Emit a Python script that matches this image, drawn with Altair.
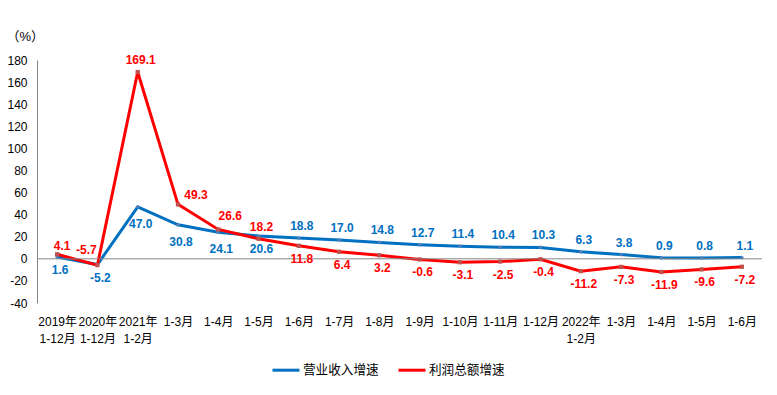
import json
import altair as alt
import pandas as pd

categories = ["2019年\n1-12月", "2020年\n1-12月", "2021年\n1-2月", "1-3月", "1-4月", "1-5月",
              "1-6月", "1-7月", "1-8月", "1-9月", "1-10月", "1-11月", "1-12月",
              "2022年\n1-2月", "1-3月", "1-4月", "1-5月", "1-6月"]
series_names = ["营业收入增速", "利润总额增速"]
revenue = [1.6, -5.2, 47.0, 30.8, 24.1, 20.6, 18.8, 17.0, 14.8, 12.7, 11.4, 10.4, 10.3,
           6.3, 3.8, 0.9, 0.8, 1.1]
profit = [4.1, -5.7, 169.1, 49.3, 26.6, 18.2, 11.8, 6.4, 3.2, -0.6, -3.1, -2.5, -0.4,
          -11.2, -7.3, -11.9, -9.6, -7.2]
y_ticks = [-40, -20, 0, 20, 40, 60, 80, 100, 120, 140, 160, 180]

# label placement flags (a = above, b = below, b2 = further below,
# as = slightly above right, ar/ar2 = above right, al = above left)
revenue_label_pos = ["b", "b", "b2", "b2", "b2", "b"] + ["a"] * 12
profit_label_pos = ["as", "al", "a", "ar", "ar2", "a"] + ["b"] * 12

LINE_COLORS = ["#0070C0", "#FF0000"]
MARKER_COLORS = ["#4F81BD", "#C0504D"]
LABEL_OFFSETS = {"a": (3, -12), "b": (3, 13), "b2": (3, 17), "as": (5, -8),
                 "ar": (18, -9), "ar2": (12, -13), "al": (-11, -15)}

rows = []
for name, vals, poss in [(series_names[0], revenue, revenue_label_pos),
                         (series_names[1], profit, profit_label_pos)]:
    for i, (v, p) in enumerate(zip(vals, poss)):
        rows.append({"series": name, "idx": i, "value": v, "pos": p, "label": f"{v:.1f}"})
df = pd.DataFrame(rows)

label_lines = json.dumps([c.split("\n") for c in categories], ensure_ascii=False)

x_enc = alt.X("idx:O", title=None,
              axis=alt.Axis(orient="bottom", domain=False, ticks=False, tickSize=0,
                            labelAngle=0, labelFontSize=12, labelColor="#000000",
                            labelPadding=13, labelLineHeight=17, labelBaseline="top",
                            labelOverlap=False, labelExpr=f"{label_lines}[datum.value]"))

y_axis = alt.Axis(values=y_ticks, tickCount=len(y_ticks), grid=False, ticks=False,
                  tickSize=0, domainColor="#868686", labelFontSize=12,
                  labelColor="#000000", labelPadding=10, labelOverlap=False,
                  labelExpr="'' + datum.value",
                  title="（%）", titleAngle=0, titleAlign="left",
                  titleBaseline="middle", titleX=-31, titleY=-24,
                  titleFontSize=13, titleFontWeight="normal", titleColor="#000000")
y_scale = alt.Scale(domain=[-40, 180], nice=False, zero=False)


def y_of(field):
    return alt.Y(field, scale=y_scale, axis=y_axis)


base = alt.Chart(df).encode(x=x_enc, y=y_of("value:Q"))

lines = base.mark_line(strokeWidth=3).encode(
    color=alt.Color("series:N", sort=series_names,
                    scale=alt.Scale(domain=series_names, range=LINE_COLORS),
                    legend=alt.Legend(orient="none", legendX=234, legendY=295,
                                      direction="horizontal", title=None,
                                      symbolType="stroke", symbolStrokeWidth=3,
                                      symbolSize=729, labelFontSize=12.6,
                                      labelColor="#000000", labelOffset=2,
                                      columnPadding=13)),
    detail="series:N")

zero_rule = alt.Chart(pd.DataFrame({"z": [0]})).mark_rule(color="#868686", strokeWidth=1).encode(
    y=y_of("z:Q"))

layers = [lines, zero_rule]
for k, name in enumerate(series_names):
    layers.append(base.transform_filter(alt.datum.series == name).mark_point(
        filled=True, size=18, shape="square" if k == 1 else "diamond",
        color=MARKER_COLORS[k], opacity=1))
    for key, (dx, dy) in LABEL_OFFSETS.items():
        layers.append(base.transform_filter(
            (alt.datum.series == name) & (alt.datum.pos == key)).mark_text(
            dx=dx, dy=dy, fontSize=12, fontWeight="bold", color=LINE_COLORS[k],
            baseline="middle", align="center").encode(text=alt.Text("label:N")))

chart = alt.layer(*layers).properties(
    width=725, height=243,
    autosize=alt.AutoSizeParams(type="none"),
    padding={"left": 29, "top": 52, "right": 7, "bottom": 84},
).configure(font="Liberation Sans, Noto Sans CJK SC").configure_view(stroke=None)

chart.save("out.html", embed_options={"renderer": "svg", "actions": False})
